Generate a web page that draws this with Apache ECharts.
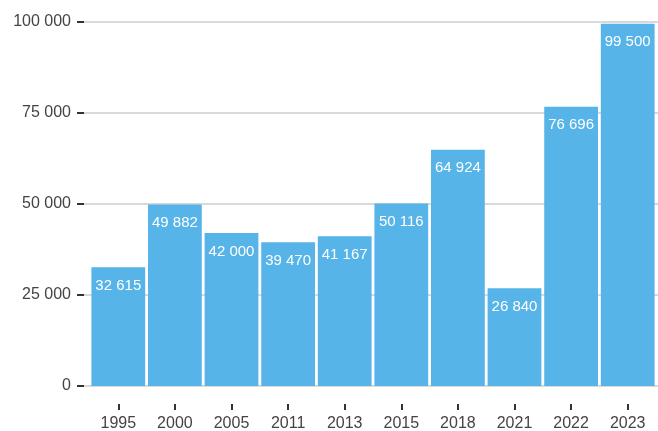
<!DOCTYPE html>
<html>
<head>
<meta charset="utf-8">
<style>
html,body{margin:0;padding:0;background:#fff;}
#main{width:658px;height:431px;}
</style>
</head>
<body>
<div id="main"></div>
<script src="https://cdn.jsdelivr.net/npm/echarts@6/dist/echarts.min.js"></script>
<script type="text/javascript">
// data
var years = ['1995', '2000', '2005', '2011', '2013', '2015', '2018', '2021', '2022', '2023'];
var values = [32615, 49882, 42000, 39470, 41167, 50116, 64924, 26840, 76696, 99500];
var yTicks = [0, 25000, 50000, 75000, 100000];

function spaced(v) {
    return String(v).replace(/\B(?=(\d{3})+(?!\d))/g, ' ');
}

var font = '"Liberation Sans", Arial, sans-serif';
var plotH = 364;   // height of the gridline area
var axisGap = 18;  // x axis sits this far below the zero line
var yMax = yTicks[yTicks.length - 1];
var barMin = -axisGap / plotH * yMax; // hidden axis extends below zero so the x axis drops down

var myChart = echarts.init(document.getElementById('main'));

var option = {
    animation: false,
    textStyle: { fontFamily: font },
    // grid 0: y axis + grid lines, grid 1: bars and x axis
    grid: [
        { left: 84, right: 0, top: 22, height: plotH, outerBoundsMode: 'none' },
        { left: 90, right: 2, top: 22, height: plotH + axisGap, outerBoundsMode: 'none' }
    ],
    xAxis: [
        { gridIndex: 0, type: 'value', show: false },
        {
            gridIndex: 1,
            type: 'category',
            data: years,
            axisLine: { show: true, onZero: false, lineStyle: { color: 'rgba(0,0,0,0)' } },
            axisTick: { show: true, alignWithLabel: true, length: 6, lineStyle: { color: '#333', width: 2 } },
            axisLabel: { color: '#444', fontSize: 16, margin: 12, fontFamily: font }
        }
    ],
    yAxis: [
        {
            gridIndex: 0,
            type: 'value',
            min: yTicks[0],
            max: yMax,
            interval: yTicks[1] - yTicks[0],
            axisLine: { show: false },
            axisTick: { show: true, length: 7, lineStyle: { color: '#333', width: 2 } },
            axisLabel: { color: '#444', fontSize: 16, margin: 13, fontFamily: font, formatter: spaced },
            splitLine: { show: true, lineStyle: { color: '#d9d9d9', width: 2 } }
        },
        {
            gridIndex: 1,
            type: 'value',
            min: barMin,
            max: yMax,
            show: false
        }
    ],
    series: [
        {
            type: 'bar',
            xAxisIndex: 1,
            yAxisIndex: 1,
            data: values,
            barCategoryGap: '5%',
            itemStyle: { color: '#56B4E9' },
            label: {
                show: true,
                position: 'insideTop',
                distance: 11,
                color: '#fff',
                fontSize: 15,
                fontFamily: font,
                formatter: function (p) { return spaced(p.value); }
            }
        }
    ]
};
myChart.setOption(option);
</script>
</body>
</html>
